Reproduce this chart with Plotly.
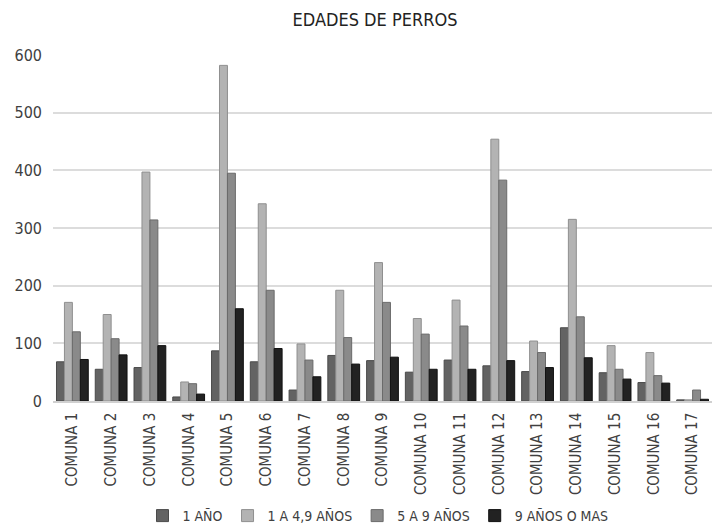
import plotly.graph_objects as go

categories = [f"COMUNA {i}" for i in range(1, 18)]
series_names = ["1 AÑO", "1 A 4,9 AÑOS", "5 A 9 AÑOS", "9 AÑOS O MAS"]
s1 = [68, 55, 58, 7, 87, 68, 19, 79, 70, 50, 71, 61, 51, 127, 49, 32, 2]
s2 = [171, 150, 397, 33, 582, 342, 99, 192, 240, 143, 175, 454, 104, 315, 96, 84, 2]
s3 = [120, 108, 314, 30, 395, 192, 71, 110, 171, 116, 130, 383, 84, 146, 55, 44, 19]
s4 = [72, 80, 96, 12, 160, 91, 42, 64, 76, 55, 55, 70, 58, 75, 38, 31, 3]
colors = ["#636363", "#b3b3b3", "#8a8a8a", "#222222"]
edges = ["#4a4a4a", "#8f8f8f", "#6a6a6a", "#111111"]

FONT = "DejaVu Sans Condensed, Roboto, sans-serif"

fig = go.Figure()
for name, vals, c, e in zip(series_names, [s1, s2, s3, s4], colors, edges):
    fig.add_trace(go.Bar(x=categories, y=vals, name=name,
                         marker=dict(color=c, line=dict(color=e, width=1))))

fig.update_layout(
    width=722, height=523,
    margin=dict(l=45, r=18, t=47, b=130),
    paper_bgcolor="white", plot_bgcolor="white",
    barmode="group", bargap=0.18, bargroupgap=0.0,
    font=dict(family=FONT, size=14, color="#404040"),
    title=dict(text="EDADES DE PERROS", x=367 / 722, xanchor="center",
               y=1 - 12 / 523, yanchor="middle",
               font=dict(family=FONT, size=18, color="#222222")),
    legend=dict(orientation="h", x=370 / 722, xref="container", xanchor="center", yref="container",
                y=15 / 523, yanchor="middle",
                font=dict(family=FONT, size=14, color="#404040"), itemwidth=30,
                traceorder="normal"),
    yaxis=dict(range=[0, 600], dtick=100, showgrid=True, gridcolor="#dcdcdc", gridwidth=1.5,
               zeroline=False, showline=False, ticks="", ticklabelstandoff=10, automargin=False,
               tickfont=dict(family=FONT, size=16, color="#404040")),
    xaxis=dict(tickangle=-90, showline=True, linecolor="#d0d0d0", linewidth=1.5, ticks="",
               automargin=False, ticklabelstandoff=4,
               tickfont=dict(family=FONT, size=15, color="#404040")),
)

fig.write_html("out.html")
